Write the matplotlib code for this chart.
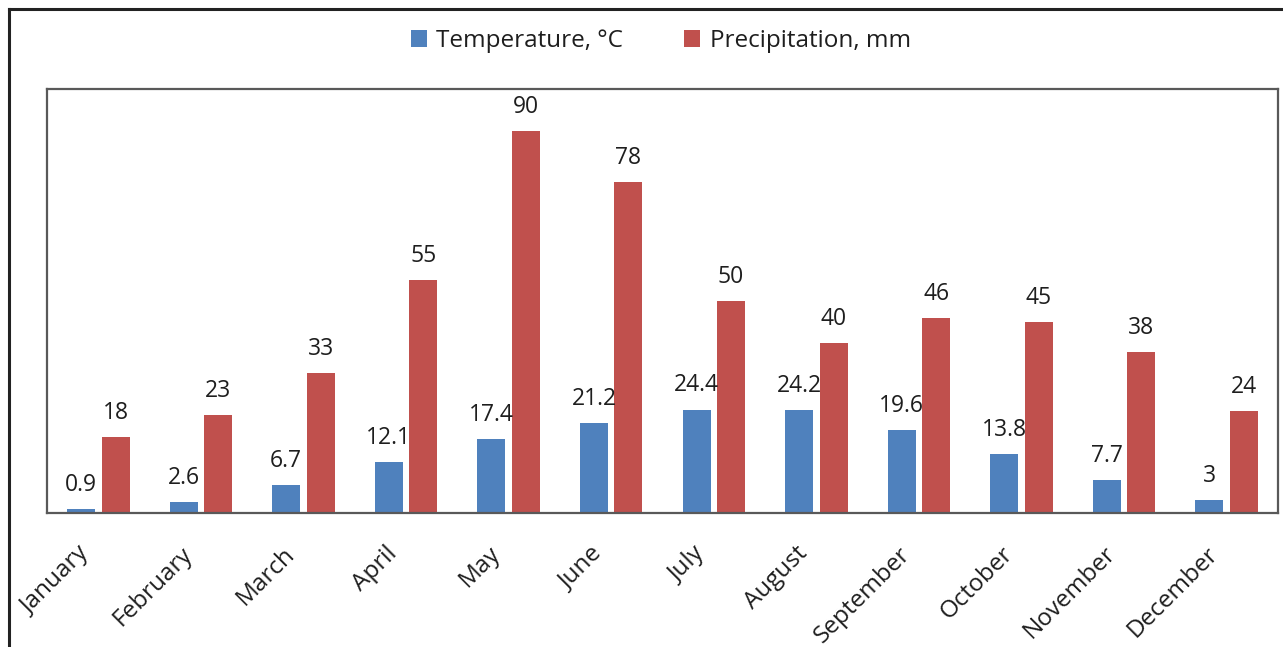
import numpy as np
import matplotlib.pyplot as plt
import matplotlib.transforms as mtransforms
from matplotlib.lines import Line2D

months = ['January', 'February', 'March', 'April', 'May', 'June', 'July',
          'August', 'September', 'October', 'November', 'December']
temperature = [0.9, 2.6, 6.7, 12.1, 17.4, 21.2, 24.4, 24.2, 19.6, 13.8, 7.7, 3]
precipitation = [18, 23, 33, 55, 90, 78, 50, 40, 46, 45, 38, 24]

plt.rcParams['font.family'] = ['Open Sans', 'DejaVu Sans']
txt_col = '#1e1e1e'

fig = plt.figure(figsize=(12.83, 6.47), dpi=100)
ax = fig.add_axes([47/1283, 1 - 513/647, (1278-47)/1283, (513-89)/647])

x = np.arange(len(months))
w = 0.273
b1 = ax.bar(x - 0.168, temperature, w, color='#4F81BD', label='Temperature, °C')
b2 = ax.bar(x + 0.168, precipitation, w, color='#C0504D', label='Precipitation, mm')

# value labels over each bar
for bars, vals in ((b1, temperature), (b2, precipitation)):
    for r, v in zip(bars, vals):
        ax.annotate(f'{v:g}', (r.get_x() + r.get_width()/2, r.get_height()),
                    xytext=(0, 13), textcoords='offset points',
                    ha='center', va='baseline', fontsize=16.5, color=txt_col)

ax.set_xlim(-0.5, 11.5)
ax.set_ylim(0, 100)
ax.set_yticks([])
ax.set_xticks(x)
ax.set_xticklabels(months, rotation=45, ha='right', va='center',
                   rotation_mode='anchor', fontsize=17.5, color=txt_col)
ax.tick_params(axis='x', length=0, pad=27)
# nudge rotated month names a little to the left
shift = mtransforms.ScaledTranslation(-12/100, 0, fig.dpi_scale_trans)
for lab in ax.get_xticklabels():
    lab.set_transform(lab.get_transform() + shift)
for s in ax.spines.values():
    s.set_color('#595959')
    s.set_linewidth(1.6)

fig.legend(loc='center', bbox_to_anchor=(0.515, 1 - 41/647), ncol=2,
           frameon=False, fontsize=17.5, handlelength=0.65, handleheight=0.65,
           handletextpad=0.4, columnspacing=2.5, labelcolor=txt_col)

# outer frame (top and left edges)
fx, fy = 9/1283, 1 - 9/647
fig.add_artist(Line2D([fx, 1], [fy, fy], color='#222222', lw=2.2))
fig.add_artist(Line2D([fx, fx], [0, fy], color='#222222', lw=2.2))

fig.savefig('out.png', dpi=100)
